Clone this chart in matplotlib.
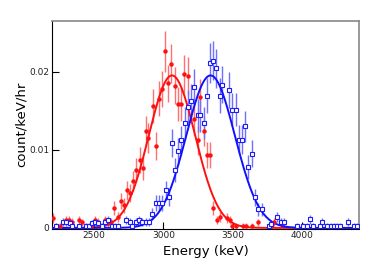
import numpy as np
import matplotlib
matplotlib.use('Agg')
import matplotlib.pyplot as plt

# red data (filled circles)
red_E = [2204, 2228, 2252, 2295, 2319, 2341, 2392, 2416, 2440, 2480, 2509, 2531, 2555,
         2577, 2600, 2625, 2646, 2670, 2692, 2714, 2738, 2760, 2784, 2805, 2829, 2853,
         2873, 2892, 2923, 2945, 2966, 2990, 3014, 3036, 3058, 3084, 3108, 3130, 3152,
         3176, 3224, 3248, 3267, 3291, 3315, 3339, 3358, 3390, 3411, 3455, 3479, 3498,
         3522, 3575, 3594, 3640, 3685, 3774, 3798]
red_y = [0.0013, 0.0003, 0.0003, 0.0010, 0.0010, 0.0008, 0.0010, 0.0007, 0.0003, 0.0003,
         0.0010, 0.0008, 0.0003, 0.0010, 0.0006, 0.0008, 0.0026, 0.0014, 0.0035, 0.0029,
         0.0048, 0.0045, 0.0060, 0.0074, 0.0087, 0.0076, 0.0124, 0.0115, 0.0156, 0.0105,
         0.0165, 0.0178, 0.0226, 0.0185, 0.0210, 0.0182, 0.0159, 0.0159, 0.0197, 0.0194,
         0.0139, 0.0112, 0.0168, 0.0124, 0.0093, 0.0093, 0.0026, 0.0010, 0.0014, 0.0013,
         0.0010, 0.0003, 0.0003, 0.0003, 0.0003, 0.0003, 0.0007, 0.0003, 0.0008]

# blue data (open squares)
blue_E = [2228, 2276, 2300, 2324, 2343, 2392, 2440, 2464, 2488, 2509, 2531, 2555, 2579,
          2603, 2627, 2651, 2675, 2733, 2757, 2776, 2805, 2824, 2848, 2873, 2897, 2921,
          2945, 2969, 2993, 3017, 3038, 3060, 3082, 3106, 3130, 3154, 3178, 3200, 3221,
          3248, 3267, 3291, 3315, 3334, 3358, 3382, 3406, 3426, 3474, 3498, 3522, 3546,
          3565, 3589, 3613, 3637, 3661, 3685, 3709, 3758, 3774, 3822, 3847, 3871, 3960,
          4008, 4032, 4056, 4080, 4128, 4142, 4181, 4205, 4229, 4253, 4272, 4328, 4376,
          4395]
blue_y = [0.0003, 0.0008, 0.0008, 0.0006, 0.0003, 0.0003, 0.0003, 0.0003, 0.0006, 0.0008,
          0.0006, 0.0003, 0.0008, 0.0010, 0.0003, 0.0003, 0.0003, 0.0010, 0.0008, 0.0003,
          0.0008, 0.0010, 0.0008, 0.0008, 0.0008, 0.0018, 0.0032, 0.0032, 0.0032, 0.0048,
          0.0039, 0.0109, 0.0074, 0.0098, 0.0112, 0.0134, 0.0155, 0.0162, 0.0180, 0.0144,
          0.0144, 0.0134, 0.0169, 0.0211, 0.0214, 0.0204, 0.0169, 0.0183, 0.0176, 0.0151,
          0.0151, 0.0113, 0.0113, 0.0130, 0.0078, 0.0095, 0.0039, 0.0024, 0.0024, 0.0003,
          0.0005, 0.0014, 0.0008, 0.0008, 0.0003, 0.0003, 0.0003, 0.0011, 0.0003, 0.0003,
          0.0008, 0.0003, 0.0003, 0.0003, 0.0003, 0.0003, 0.0008, 0.0003, 0.0003]

# gaussian fit parameters (amplitude, mean, sigma)
red_fit = (0.0195, 3062, 167)
blue_fit = (0.0195, 3340, 175)

# poisson errors: count/keV/hr per single count
unit = 0.0003


def gauss(x, A, mu, s):
    return A*np.exp(-(x - mu)**2/(2*s**2))


def poisson_err(y):
    y = np.array(y)
    return np.sqrt(y*unit)


fig = plt.figure(figsize=(3.74, 2.68), dpi=100)
ax = fig.add_axes([0.140, 0.1466, 0.820, 0.7762])

x = np.linspace(2200, 4410, 600)

ax.errorbar(red_E, red_y, yerr=poisson_err(red_y), fmt='none', ecolor='#ff7070',
            elinewidth=1.0, zorder=2)
ax.errorbar(blue_E, blue_y, yerr=poisson_err(blue_y), fmt='none', ecolor='#7070ff',
            elinewidth=1.0, zorder=2)
ax.plot(x, gauss(x, *red_fit), color='#ff1010', lw=1.4, zorder=3)
ax.plot(x, gauss(x, *blue_fit), color='#1010ff', lw=1.4, zorder=3)
ax.plot(red_E, red_y, 'o', color='#ff1010', ms=3.2, mew=0, zorder=4)
ax.plot(blue_E, blue_y, 's', mfc='white', mec='#1a1aff', ms=3.0, mew=0.8, zorder=4)

ax.set_xlim(2200, 4410)
ax.set_ylim(-0.0001, 0.0265)
ax.set_xticks([2500, 3000, 3500, 4000])
ax.set_yticks([0, 0.01, 0.02])
ax.set_yticklabels(['0', '0.01', '0.02'])
ax.tick_params(direction='in', length=5, width=0.8, labelsize=6.5, pad=2,
               labelcolor='#222222')
for side in ['top', 'right']:
    ax.spines[side].set_color('#888888')
    ax.spines[side].set_linewidth(1.2)
for side in ['left', 'bottom']:
    ax.spines[side].set_linewidth(0.8)

ax.set_xlabel('Energy (keV)', fontsize=9.5, labelpad=3)
ax.set_ylabel('count/keV/hr', fontsize=9.5, labelpad=1)

fig.savefig('out.png', dpi=100)
